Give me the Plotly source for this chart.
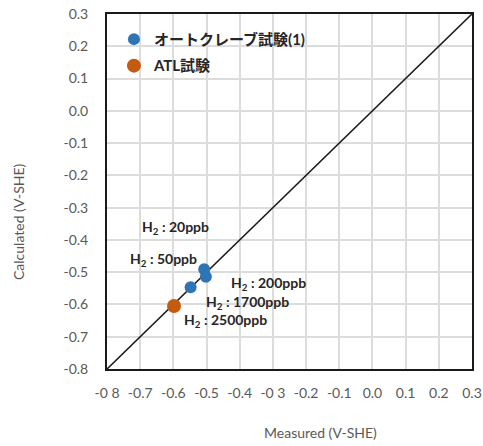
import plotly.graph_objects as go

# Measured vs calculated potentials (V vs SHE)
autoclave_measured = [-0.507, -0.502, -0.548]
autoclave_calculated = [-0.491, -0.514, -0.547]
atl_measured = [-0.598]
atl_calculated = [-0.605]

series_names = ["オートクレーブ試験(1)", "ATL試験"]

# 1:1 reference line
ref_line = [-0.8, 0.3]

tick_values = [-0.8, -0.7, -0.6, -0.5, -0.4, -0.3, -0.2, -0.1, 0.0, 0.1, 0.2, 0.3]
x_tick_text = ["-0 8", "-0.7", "-0.6", "-0.5", "-0.4", "-0 3", "-0.2", "-0.1", "0.0", "0.1", "0.2", "0.3"]
y_tick_text = ["-0.8", "-0.7", "-0.6", "-0.5", "-0.4", "-0.3", "-0.2", "-0.1", "0.0", "0.1", "0.2", "0.3"]

# H2 concentration labels: (text, x, y) in data coordinates
h2_labels = [
    ("H<sub>2</sub> : 20ppb", -0.700, -0.360),
    ("H<sub>2</sub> : 50ppb", -0.737, -0.460),
    ("H<sub>2</sub> : 200ppb", -0.432, -0.535),
    ("H<sub>2</sub> : 1700ppb", -0.508, -0.594),
    ("H<sub>2</sub> : 2500ppb", -0.574, -0.650),
]

FONT = "Lato, 'Noto Sans CJK JP', sans-serif"
BLUE = "#2E75B6"
ORANGE = "#C55A11"
GREY = "#595959"

fig = go.Figure()

fig.add_trace(go.Scatter(
    x=ref_line, y=ref_line, mode="lines",
    line=dict(color="#1a1a1a", width=1.6),
    showlegend=False, hoverinfo="skip",
))
fig.add_trace(go.Scatter(
    x=autoclave_measured, y=autoclave_calculated, mode="markers",
    name=series_names[0], legendgroup="a",
    marker=dict(color=BLUE, size=12),
))
fig.add_trace(go.Scatter(
    x=atl_measured, y=atl_calculated, mode="markers",
    name=series_names[1], legendgroup="b",
    marker=dict(color=ORANGE, size=14),
))

for text, x, y in h2_labels:
    fig.add_annotation(
        x=x, y=y, xref="x", yref="y", text="<b>" + text + "</b>",
        showarrow=False, xanchor="left", yanchor="middle",
        font=dict(family=FONT, size=14, color="#262626"),
    )

W, H = 483, 446
L, R, T, B = 107, 11, 14, 77
pw, ph = W - L - R, H - T - B

# Axis titles, placed by pixel position and converted to paper fractions
def px_to_paper(px, py):
    return (px - L) / pw, (H - B - py) / ph

tx, ty = px_to_paper(320, 432)
fig.add_annotation(
    x=tx, y=ty, xref="paper", yref="paper", text="Measured (V-SHE)",
    xanchor="center", yanchor="middle",
    showarrow=False, font=dict(family=FONT, size=14, color=GREY),
)
tx, ty = px_to_paper(18, 222)
fig.add_annotation(
    x=tx, y=ty, xref="paper", yref="paper", text="Calculated (V-SHE)",
    xanchor="center", yanchor="middle",
    showarrow=False, textangle=-90, font=dict(family=FONT, size=14, color=GREY),
)

axis_common = dict(
    range=[-0.8, 0.3],
    tickvals=tick_values,
    showgrid=True, gridcolor="#dcdcdc", gridwidth=1.5,
    showline=True, linecolor="#1a1a1a", linewidth=2, mirror=True,
    zeroline=False, ticks="", automargin=False,
    tickfont=dict(family=FONT, size=14, color=GREY),
)

fig.update_xaxes(**axis_common, ticktext=x_tick_text, ticklabelstandoff=10)
fig.update_yaxes(**axis_common, ticktext=y_tick_text, ticklabelstandoff=14)

fig.update_layout(
    width=W, height=H,
    margin=dict(l=L, r=R, t=T, b=B, autoexpand=False),
    paper_bgcolor="white", plot_bgcolor="white",
    font=dict(family=FONT),
    legend=dict(
        x=0.019, y=0.975, xanchor="left", yanchor="top",
        bgcolor="rgba(0,0,0,0)",
        font=dict(family=FONT, size=15, color="#262626", weight="bold"),
        itemsizing="trace", tracegroupgap=4,
    ),
)

fig.write_html("out.html")
